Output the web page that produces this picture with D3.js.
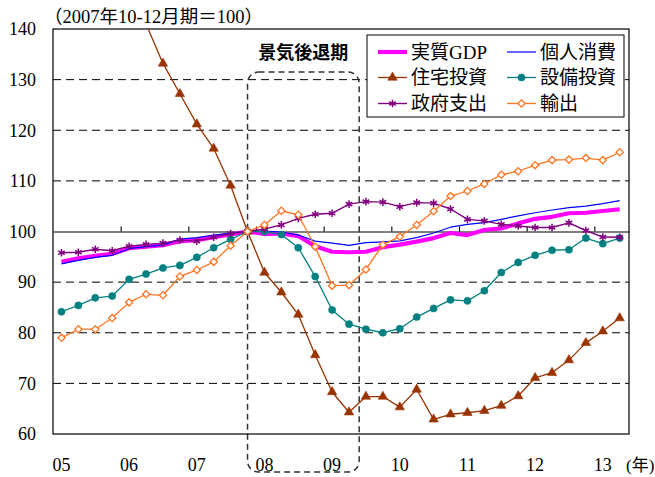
<!DOCTYPE html>
<html>
<head>
<meta charset="utf-8">
<script src="https://cdn.jsdelivr.net/npm/d3@7"></script>
<style>
  html, body { margin: 0; padding: 0; background: #fff; }
  svg { display: block; }
</style>
</head>
<body>
<svg id="chart" width="655" height="477"></svg>
<script>
// Quarterly index, 2007 Q4 = 100
const quarters = [
  "2005Q1","2005Q2","2005Q3","2005Q4",
  "2006Q1","2006Q2","2006Q3","2006Q4",
  "2007Q1","2007Q2","2007Q3","2007Q4",
  "2008Q1","2008Q2","2008Q3","2008Q4",
  "2009Q1","2009Q2","2009Q3","2009Q4",
  "2010Q1","2010Q2","2010Q3","2010Q4",
  "2011Q1","2011Q2","2011Q3","2011Q4",
  "2012Q1","2012Q2","2012Q3","2012Q4",
  "2013Q1","2013Q2"
];
const yearLabels = ["05","06","07","08","09","10","11","12","13"];
const yTicks = [60, 70, 80, 90, 100, 110, 120, 130, 140];
const gridValues = [70, 80, 90, 110, 120, 130];
const baseValue = 100;

const gdp = [94.0, 94.7, 95.2, 95.6, 96.7, 97.0, 97.3, 98.1, 98.3, 98.9, 99.4, 100.0,
  99.5, 99.6, 99.1, 97.1, 96.0, 95.9, 96.0, 96.9, 97.4, 98.0, 98.7, 99.7,
  99.3, 100.3, 100.6, 101.6, 102.5, 102.9, 103.6, 103.7, 104.05, 104.4];
const consumption = [93.6, 94.3, 94.9, 95.3, 96.6, 97.0, 97.3, 98.5, 98.8, 99.3, 99.7, 100.0,
  100.1, 99.9, 99.3, 98.1, 97.7, 97.25, 97.8, 97.95, 98.15, 98.8, 99.7, 100.85,
  101.4, 101.75, 102.4, 103.1, 103.7, 104.25, 104.7, 105.0, 105.5, 106.1];
const housing = [144.5, 146.5, 148.0, 147.5, 146.5, 141.0, 133.2, 127.2, 121.2, 116.4, 109.1, 100.0,
  91.9, 88.0, 83.6, 75.6, 68.3, 64.3, 67.4, 67.4, 65.3, 68.8, 62.9, 63.9,
  64.2, 64.6, 65.6, 67.5, 71.1, 72.1, 74.6, 78.0, 80.3, 82.9];
const capex = [84.15, 85.4, 86.9, 87.25, 90.55, 91.6, 92.8, 93.3, 94.9, 96.8, 98.45, 100.0,
  100.0, 99.4, 96.8, 91.1, 84.5, 81.7, 80.7, 80.0, 80.8, 83.1, 84.8, 86.5,
  86.3, 88.3, 91.9, 93.9, 95.3, 96.3, 96.4, 98.7, 97.6, 98.7];
const government = [95.8, 95.9, 96.5, 96.2, 97.1, 97.45, 97.7, 98.3, 98.1, 98.85, 99.6, 100.0,
  100.5, 101.3, 102.6, 103.4, 103.6, 105.4, 105.9, 105.8, 104.9, 105.7, 105.6, 104.45,
  102.4, 102.1, 101.4, 101.1, 100.8, 100.8, 101.7, 100.2, 98.9, 98.85];
const exportsIdx = [79.0, 80.7, 80.7, 82.9, 86.0, 87.6, 87.4, 91.1, 92.4, 94.0, 97.2, 100.0,
  101.3, 104.1, 103.3, 97.0, 89.3, 89.4, 92.5, 97.4, 99.0, 101.3, 104.0, 107.0,
  108.0, 109.4, 111.2, 111.9, 113.1, 114.1, 114.2, 114.5, 114.1, 115.65];

const recession = { start: "2007Q4", end: "2009Q2" };

const series = [
  { name: "実質GDP",  values: gdp,         color: "#ff00ff", width: 4.2, marker: null },
  { name: "個人消費", values: consumption, color: "#0000ff", width: 1.2, marker: null },
  { name: "住宅投資", values: housing,     color: "#993300", width: 1.3, marker: "triangle" },
  { name: "設備投資", values: capex,       color: "#008080", width: 1.3, marker: "circle" },
  { name: "政府支出", values: government,  color: "#800080", width: 1.4, marker: "asterisk" },
  { name: "輸出",     values: exportsIdx,  color: "#ff7420", width: 1.3, marker: "diamond" }
];

const SERIF = "'Liberation Serif', 'Times New Roman', 'Noto Sans CJK JP', serif";
const GOTHIC = "'Noto Sans CJK JP', 'Noto Sans', sans-serif";

const svg = d3.select("#chart");
const plot = { left: 53, right: 629, top: 29, bottom: 434 };

const x = d3.scaleLinear().domain([-0.5, quarters.length - 0.45]).range([plot.left, plot.right]);
const y = d3.scaleLinear().domain([60, 140]).range([plot.bottom, plot.top]);
const qi = q => quarters.indexOf(q);

svg.append("defs").append("clipPath").attr("id", "plot-clip")
  .append("rect")
  .attr("x", plot.left).attr("y", plot.top)
  .attr("width", plot.right - plot.left).attr("height", plot.bottom - plot.top);

// dashed horizontal gridlines
svg.append("g").selectAll("line").data(gridValues).join("line")
  .attr("x1", plot.left).attr("x2", plot.right)
  .attr("y1", d => y(d)).attr("y2", d => y(d))
  .attr("stroke", "#000").attr("stroke-width", 1)
  .attr("stroke-dasharray", "8,5");

// baseline at 100 with year-boundary ticks
const yearBounds = d3.range(4, quarters.length, 4).map(i => i - 0.5);
svg.append("g")
  .attr("transform", `translate(0,${y(baseValue)})`)
  .call(d3.axisTop(x).tickValues(yearBounds).tickSize(5).tickSizeOuter(0).tickFormat(""))
  .call(g => g.selectAll("path, line").attr("stroke", "#000").attr("stroke-width", 1.1));

// y-axis labels
svg.append("g")
  .attr("transform", `translate(${plot.left},0)`)
  .call(d3.axisLeft(y).tickValues(yTicks).tickSize(0).tickPadding(17))
  .call(g => g.select(".domain").remove())
  .call(g => g.selectAll("text")
    .attr("font-family", SERIF).attr("font-size", 18).attr("fill", "#000"));

// year labels under the plot, at each year's first quarter
svg.append("g").selectAll("text").data(yearLabels).join("text")
  .attr("x", (d, i) => x(i * 4))
  .attr("y", 471)
  .attr("text-anchor", "middle")
  .attr("font-family", SERIF).attr("font-size", 18)
  .text(d => d);

svg.append("text")
  .attr("x", 626).attr("y", 471)
  .attr("font-family", SERIF).attr("font-size", 17)
  .text("(年)");

svg.append("text")
  .attr("x", 44).attr("y", 23)
  .attr("font-family", SERIF).attr("font-size", 18.5)
  .text("（2007年10-12月期＝100）");

// recession period box
const boxLeft = x(qi(recession.start));
const boxRight = x(qi(recession.end)) + 0.6 * (x(1) - x(0));
const boxTop = y(131.5);
const boxBottom = 472;
svg.append("rect")
  .attr("x", boxLeft).attr("y", boxTop)
  .attr("width", boxRight - boxLeft).attr("height", boxBottom - boxTop)
  .attr("rx", 11).attr("ry", 11)
  .attr("fill", "none").attr("stroke", "#333").attr("stroke-width", 1.5)
  .attr("stroke-dasharray", "6,4");
svg.append("text")
  .attr("x", (boxLeft + boxRight) / 2).attr("y", 59)
  .attr("text-anchor", "middle")
  .attr("font-family", GOTHIC).attr("font-size", 18).attr("font-weight", "bold")
  .text("景気後退期");

// plot frame
svg.append("rect")
  .attr("x", plot.left).attr("y", plot.top)
  .attr("width", plot.right - plot.left).attr("height", plot.bottom - plot.top)
  .attr("fill", "none").attr("stroke", "#000").attr("stroke-width", 1.2);

const markerPath = {
  triangle: d3.symbol().type(d3.symbolTriangle).size(38)(),
  circle: d3.symbol().type(d3.symbolCircle).size(40)(),
  asterisk: d3.symbol().type(d3.symbolAsterisk).size(40)(),
  diamond: d3.symbol().type(d3.symbolSquare).size(26)()
};

function drawMarker(sel, s) {
  const p = sel.append("path").attr("d", markerPath[s.marker]);
  if (s.marker === "diamond") {
    p.attr("transform", "rotate(45)")
      .attr("fill", "#fff").attr("stroke", s.color).attr("stroke-width", 1.3);
  } else if (s.marker === "asterisk") {
    p.attr("fill", "none").attr("stroke", s.color).attr("stroke-width", 1.5);
  } else {
    p.attr("fill", s.color).attr("stroke", s.color).attr("stroke-width", 0.6);
  }
  return p;
}

const line = d3.line().x((d, i) => x(i)).y(d => y(d));
const dataLayer = svg.append("g").attr("clip-path", "url(#plot-clip)");

series.forEach(s => {
  dataLayer.append("path")
    .datum(s.values)
    .attr("fill", "none")
    .attr("stroke", s.color)
    .attr("stroke-width", s.width)
    .attr("stroke-linejoin", "round")
    .attr("d", line);
  if (s.marker) {
    dataLayer.append("g").selectAll("g").data(s.values).join("g")
      .attr("transform", (d, i) => `translate(${x(i)},${y(d)})`)
      .each(function () { drawMarker(d3.select(this), s); });
  }
});

// legend
const legend = { x: 367, y: 35, w: 257, h: 82 };
const lg = svg.append("g");
lg.append("rect")
  .attr("x", legend.x).attr("y", legend.y)
  .attr("width", legend.w).attr("height", legend.h)
  .attr("fill", "#fff").attr("stroke", "#000").attr("stroke-width", 1);

const colX = [378, 507];
const rowY = [52, 77.5, 103.5];
series.forEach((s, k) => {
  const cx = colX[k % 2], cy = rowY[Math.floor(k / 2)];
  const item = lg.append("g").attr("transform", `translate(${cx},${cy})`);
  item.append("line")
    .attr("x1", 0).attr("x2", 29).attr("y1", 0).attr("y2", 0)
    .attr("stroke", s.color).attr("stroke-width", s.width);
  if (s.marker) {
    const m = item.append("g").attr("transform", "translate(14.5,0)");
    drawMarker(m, s);
  }
  item.append("text")
    .attr("x", 33).attr("y", 0).attr("dy", "0.36em")
    .attr("font-family", SERIF).attr("font-size", 19)
    .text(s.name);
});
</script>
</body>
</html>
